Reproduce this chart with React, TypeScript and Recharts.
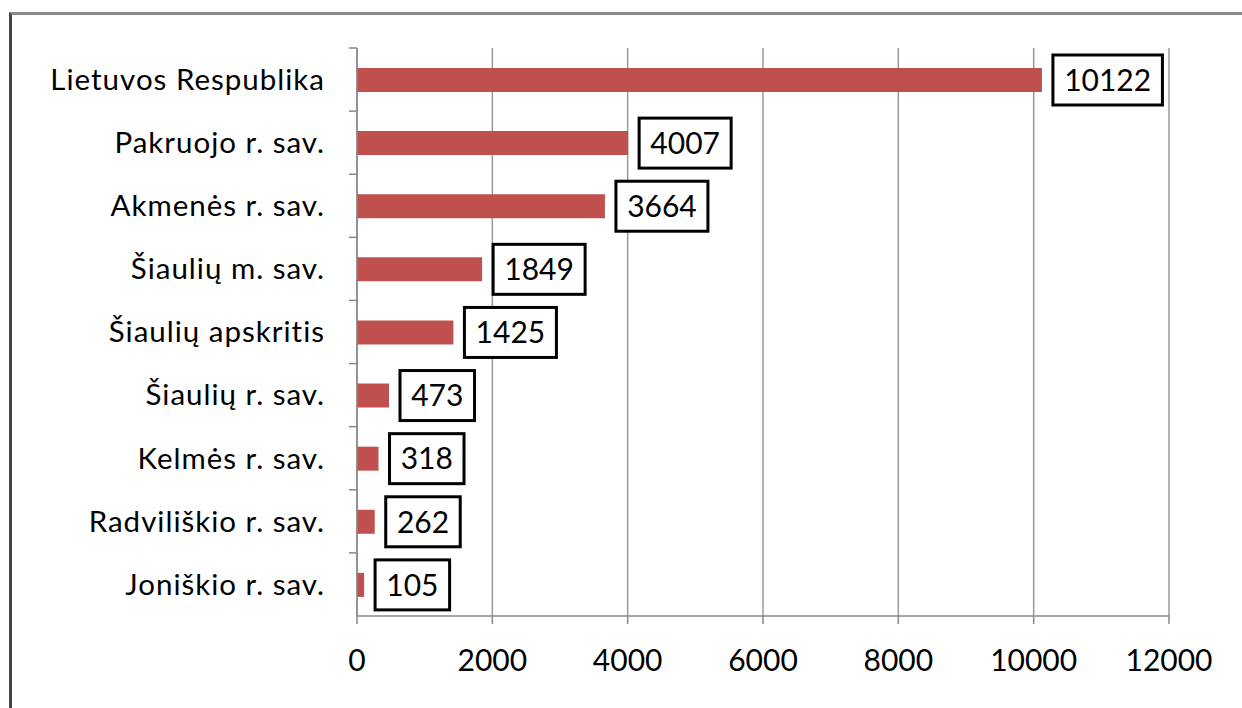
import { BarChart, Bar, XAxis, YAxis, CartesianGrid, LabelList } from "recharts";

const categories = [
  "Lietuvos Respublika",
  "Pakruojo r. sav.",
  "Akmenės r. sav.",
  "Šiaulių m. sav.",
  "Šiaulių apskritis",
  "Šiaulių r. sav.",
  "Kelmės r. sav.",
  "Radviliškio r. sav.",
  "Joniškio r. sav.",
];
const values = [10122, 4007, 3664, 1849, 1425, 473, 318, 262, 105];
const xTicks = [0, 2000, 4000, 6000, 8000, 10000, 12000];

const data = categories.map((name, i) => ({ name, value: values[i] }));

const FONT = "Lato, 'Open Sans', sans-serif";

function CategoryTick(props: any) {
  const { x, y, payload } = props;
  const half = payload.offset || 31.5;
  const axisX = x + 8;
  return (
    <g>
      <line x1={axisX - 8} x2={axisX} y1={y - half} y2={y - half} stroke="#888" strokeWidth={1.5} />
      <text
        x={x - 24}
        y={y}
        dy="0.35em"
        textAnchor="end"
        fontSize={29.5}
        letterSpacing={1}
        fill="#000"
        fontFamily={FONT}
      >
        {payload.value}
      </text>
    </g>
  );
}

function BoxLabel(props: any) {
  const { x, y, width, height, value } = props;
  const text = String(value);
  const w = text.length * 17.5 + 22;
  const h = 50;
  const left = x + width + 11;
  const cy = y + height / 2;
  return (
    <g>
      <rect x={left} y={cy - h / 2} width={w} height={h} fill="#fff" stroke="#000" strokeWidth={3} />
      <text x={left + w / 2} y={cy} dy="0.36em" textAnchor="middle" fontSize={30} fill="#000" fontFamily={FONT}>
        {text}
      </text>
    </g>
  );
}

export default function App() {
  return (
    <div style={{ position: "relative", width: 1242, height: 708, background: "#fff", overflow: "hidden" }}>
      <style>{"body{margin:0}"}</style>
      <div
        style={{
          position: "absolute",
          left: 9,
          top: 12,
          width: 1250,
          height: 720,
          borderTop: "3px solid #8a8a8a",
          borderLeft: "3px solid #444",
        }}
      />
      <BarChart
        width={1242}
        height={708}
        data={data}
        layout="vertical"
        margin={{ top: 48, right: 73, bottom: 0, left: 0 }}
        barCategoryGap={0}
        style={{ position: "absolute", left: 0, top: 0 }}
      >
        <CartesianGrid horizontal={false} stroke="#999" strokeWidth={1.5} />
        <XAxis
          type="number"
          domain={[0, 12000]}
          ticks={xTicks}
          interval={0}
          height={92}
          tickSize={8}
          tickMargin={26}
          stroke="#888"
          strokeWidth={1.5}
          tick={{ fontSize: 30, fill: "#000", fontFamily: FONT }}
        />
        <YAxis
          type="category"
          dataKey="name"
          width={357}
          stroke="#888"
          strokeWidth={1.5}
          tickLine={false}
          interval={0}
          tick={<CategoryTick />}
        />
        <Bar dataKey="value" fill="#C0504D" barSize={24} isAnimationActive={false}>
          <LabelList dataKey="value" content={<BoxLabel />} />
        </Bar>
      </BarChart>
    </div>
  );
}
